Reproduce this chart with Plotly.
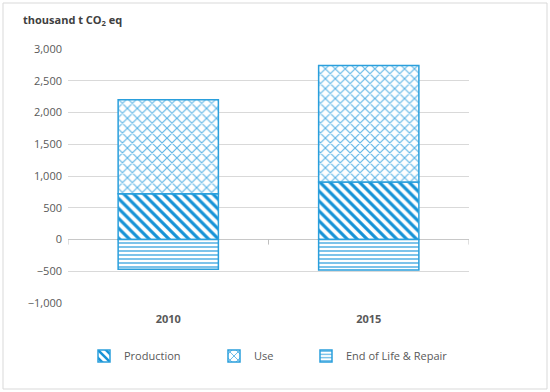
import plotly.graph_objects as go

years = ["2010", "2015"]
production = [720, 905]
use = [1480, 1835]
end_of_life = [-470, -480]

W, H = 550, 392
L, R, T, B = 68, 81, 49, 89
pw, ph = W - L - R, H - T - B

def px2x(x):
    return (x - L) / pw

def py2y(y):
    return (H - B - y) / ph

edge = "#2a9fdc"
fig = go.Figure()
series = [
    ("Production", production, "\\", "#1592d6", 7, 0.45),
    ("Use", use, "x", "#5db5e6", 7, 0.3),
    ("End of Life & Repair", end_of_life, "-", "#45a9e2", 4, 0.35),
]
for i, (name, vals, shape, fg, size, sol) in enumerate(series):
    fig.add_trace(go.Bar(
        x=years, y=vals, name=name, width=0.5,
        marker=dict(color="white", line=dict(color=edge, width=1.5),
                    pattern=dict(shape=shape, fgcolor=fg, bgcolor="white", fgopacity=1,
                                 size=size, solidity=sol, fillmode="overlay")),
        legend="legend" if i == 0 else f"legend{i+1}",
        showlegend=True,
    ))

font = "Open Sans, Noto Sans, sans-serif"
legend_common = dict(orientation="h", yanchor="middle", xanchor="left",
                     font=dict(family=font, size=11, color="#595959"),
                     bgcolor="rgba(0,0,0,0)", itemwidth=30)
shapes = [
    dict(type="rect", xref="paper", yref="paper", x0=px2x(3), x1=px2x(547),
         y0=py2y(3), y1=py2y(389), line=dict(color="#d9d9d9", width=1)),
]
for xv in [-0.5, 0.5, 1.5]:
    shapes.append(dict(type="line", xref="x", yref="y", x0=xv, x1=xv, y0=0, y1=-80,
                       line=dict(color="#bfbfbf", width=1)))

fig.update_layout(
    width=W, height=H, margin=dict(l=L, r=R, t=T, b=B),
    plot_bgcolor="white", paper_bgcolor="white",
    barmode="relative", showlegend=True,
    font=dict(family=font, color="#595959"),
    xaxis=dict(tickfont=dict(size=11, color="#595959", weight="bold"), ticks="",
               showgrid=False, showline=False, range=[-0.5, 1.5], ticklabelstandoff=8),
    yaxis=dict(range=[-1000, 3000], dtick=500, tickformat=",", gridcolor="#d9d9d9",
               gridwidth=1, zeroline=True, zerolinecolor="#c8c8c8", zerolinewidth=1,
               tickfont=dict(size=11, color="#595959"), ticks="", showline=False,
               ticklabelstandoff=5),
    legend=dict(x=px2x(84), y=py2y(356), **legend_common),
    legend2=dict(x=px2x(214), y=py2y(356), **legend_common),
    legend3=dict(x=px2x(306), y=py2y(356), **legend_common),
    shapes=shapes,
    annotations=[dict(text="<b>thousand t CO<sub>2</sub> eq</b>", xref="paper", yref="paper",
                      x=px2x(21), y=py2y(20), xanchor="left", yanchor="middle",
                      showarrow=False, font=dict(family=font, size=11, color="#404040"))],
)
fig.write_html("out.html", config={"displayModeBar": False},
               post_script="document.body.style.margin='0';")
